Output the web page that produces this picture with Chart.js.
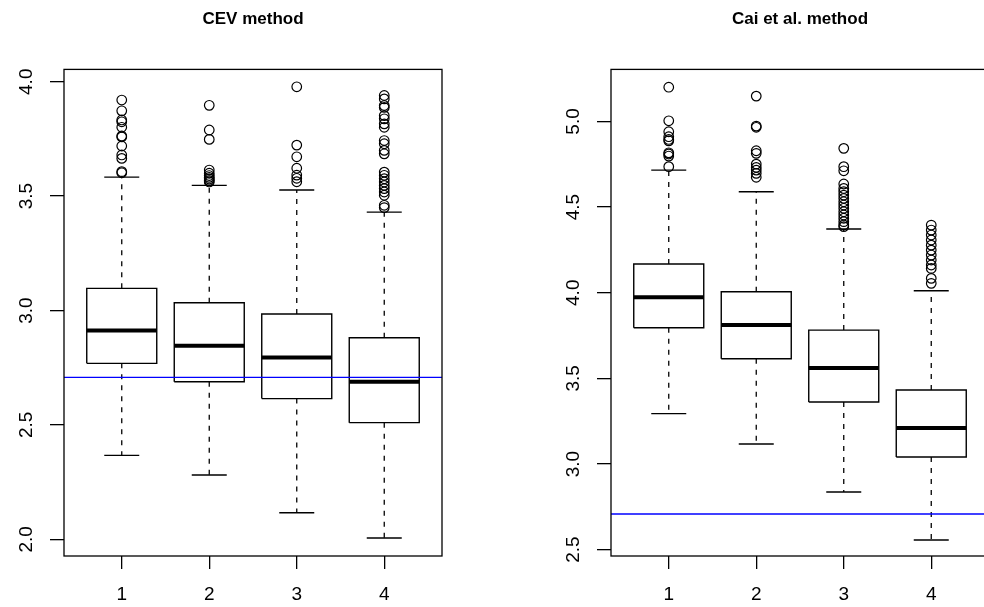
<!DOCTYPE html>
<html>
<head>
<meta charset="utf-8">
<script src="https://cdn.jsdelivr.net/npm/chart.js@4.4.1/dist/chart.umd.min.js"></script>
<style>
  html, body { margin: 0; padding: 0; background: #fff; overflow: hidden; }
  body { width: 984px; height: 607px; position: relative; }
  canvas { position: absolute; top: 0; }
  #cev { left: 0; }
  #cai { left: 547px; }
</style>
</head>
<body>
<canvas id="cev" width="492" height="607"></canvas>
<canvas id="cai" width="492" height="607"></canvas>
<script>
// groups on the x axis
const groups = [1, 2, 3, 4];
const refLine = 2.708; // horizontal blue line

// CEV method
const cevTicks = [2.0, 2.5, 3.0, 3.5, 4.0];
const cevLow = [2.367, 2.281, 2.116, 2.006];
const cevQ1 = [2.769, 2.689, 2.615, 2.510];
const cevMedian = [2.913, 2.846, 2.795, 2.689];
const cevQ3 = [3.097, 3.034, 2.985, 2.881];
const cevHigh = [3.583, 3.547, 3.527, 3.430];
const cevOutliers = [
  [3.920, 3.873, 3.833, 3.825, 3.801, 3.763, 3.759, 3.719, 3.680, 3.665, 3.607, 3.602],
  [3.897, 3.789, 3.748, 3.614, 3.600, 3.590, 3.582, 3.575, 3.568, 3.562],
  [3.978, 3.723, 3.672, 3.622, 3.592, 3.578, 3.563],
  [3.940, 3.925, 3.896, 3.888, 3.852, 3.838, 3.816, 3.801, 3.743, 3.729, 3.700, 3.685,
   3.605, 3.591, 3.576, 3.562, 3.547, 3.533, 3.518, 3.504, 3.460, 3.450]
];

// Cai et al. method
const caiTicks = [2.5, 3.0, 3.5, 4.0, 4.5, 5.0];
const caiLow = [3.294, 3.117, 2.837, 2.556];
const caiQ1 = [3.796, 3.615, 3.362, 3.041];
const caiMedian = [3.973, 3.811, 3.560, 3.210];
const caiQ3 = [4.168, 4.006, 3.782, 3.432];
const caiHigh = [4.716, 4.590, 4.372, 4.012];
const caiOutliers = [
  [5.200, 5.004, 4.940, 4.911, 4.895, 4.887, 4.817, 4.810, 4.798, 4.736],
  [5.148, 4.973, 4.966, 4.829, 4.814, 4.751, 4.732, 4.716, 4.697, 4.674],
  [4.843, 4.736, 4.712, 4.635, 4.609, 4.590, 4.570, 4.551, 4.531, 4.512, 4.493, 4.473,
   4.454, 4.435, 4.415, 4.396, 4.386],
  [4.395, 4.366, 4.337, 4.308, 4.278, 4.249, 4.220, 4.191, 4.162, 4.142, 4.084, 4.055]
];

const FONT = "'Liberation Sans', Arial, Helvetica, sans-serif";
const xMin = 0.34, xMax = 4.66;

function boxes(q1, q3) {
  const pts = [];
  groups.forEach((g, i) => {
    pts.push({x: g - 0.4, y: q1[i]}, {x: g + 0.4, y: q1[i]}, {x: g + 0.4, y: q3[i]},
             {x: g - 0.4, y: q3[i]}, {x: g - 0.4, y: q1[i]}, {x: g, y: null});
  });
  return pts;
}
function hLines(vals, half) {
  const pts = [];
  groups.forEach((g, i) => {
    pts.push({x: g - half, y: vals[i]}, {x: g + half, y: vals[i]}, {x: g, y: null});
  });
  return pts;
}
function vLines(from, to) {
  const pts = [];
  groups.forEach((g, i) => {
    pts.push({x: g, y: from[i]}, {x: g, y: to[i]}, {x: g, y: null});
  });
  return pts;
}
function points(outliers) {
  const pts = [];
  outliers.forEach((list, i) => list.forEach(v => pts.push({x: groups[i], y: v})));
  return pts;
}

const frame = {
  id: 'frame',
  afterDraw(chart) {
    const {ctx, chartArea: a} = chart;
    ctx.save();
    ctx.strokeStyle = '#000';
    ctx.lineWidth = 1.3;
    ctx.strokeRect(a.left, a.top, a.right - a.left, a.bottom - a.top);
    ctx.restore();
  }
};

function drawBoxplot(id, title, s) {
  const line = {type: 'line', showLine: true, pointRadius: 0, fill: false, borderColor: '#000'};
  new Chart(document.getElementById(id), {
    type: 'scatter',
    data: {
      datasets: [
        {...line, data: [{x: xMin, y: refLine}, {x: xMax, y: refLine}], borderColor: '#0000ff', borderWidth: 1.4, order: 0},
        {...line, data: hLines(s.median, 0.4), borderWidth: 4, borderCapStyle: 'butt', order: 1},
        {...line, data: boxes(s.q1, s.q3), borderWidth: 1.4, borderJoinStyle: 'miter', order: 2},
        {...line, data: vLines(s.q3, s.high).concat(vLines(s.q1, s.low)), borderWidth: 1.3, borderDash: [5, 6], order: 3},
        {...line, data: hLines(s.high, 0.2).concat(hLines(s.low, 0.2)), borderWidth: 1.4, order: 3},
        {type: 'scatter', data: points(s.outliers), pointStyle: 'circle', pointRadius: 4.8,
         pointBorderWidth: 1.2, pointBorderColor: '#000', pointBackgroundColor: 'rgba(0,0,0,0)', order: 4}
      ]
    },
    options: {
      responsive: false,
      animation: false,
      events: [],
      layout: {padding: {left: 0, right: 50, top: 0, bottom: 0}},
      plugins: {
        legend: {display: false},
        tooltip: {enabled: false},
        title: {
          display: true, text: title, color: '#000', fullSize: false,
          font: {family: FONT, size: 17, weight: 'bold'},
          padding: {top: 9, bottom: 40}
        }
      },
      scales: {
        x: {
          type: 'linear', min: xMin, max: xMax,
          afterFit: sc => { sc.height = 51; },
          afterBuildTicks: sc => { sc.ticks = groups.map(v => ({value: v})); },
          ticks: {color: '#000', font: {family: FONT, size: 19}, padding: 14, callback: v => String(v)},
          grid: {drawOnChartArea: false, drawTicks: true, tickLength: 13, color: '#000', lineWidth: 1.3},
          border: {display: false}
        },
        y: {
          min: s.min, max: s.max,
          afterFit: sc => { sc.width = 64; },
          afterBuildTicks: sc => { sc.ticks = s.ticks.map(v => ({value: v})); },
          ticks: {color: '#000', font: {family: FONT, size: 19}, padding: 10, minRotation: 90, maxRotation: 90,
                  crossAlign: 'center', callback: v => v.toFixed(1)},
          grid: {drawOnChartArea: false, drawTicks: true, tickLength: 14, color: '#000', lineWidth: 1.3},
          border: {display: false}
        }
      }
    },
    plugins: [frame]
  });
}

drawBoxplot('cev', 'CEV method', {
  min: 1.927, max: 4.054, ticks: cevTicks,
  low: cevLow, q1: cevQ1, median: cevMedian, q3: cevQ3, high: cevHigh, outliers: cevOutliers
});
drawBoxplot('cai', 'Cai et al. method', {
  min: 2.463, max: 5.304, ticks: caiTicks,
  low: caiLow, q1: caiQ1, median: caiMedian, q3: caiQ3, high: caiHigh, outliers: caiOutliers
});
</script>
</body>
</html>
